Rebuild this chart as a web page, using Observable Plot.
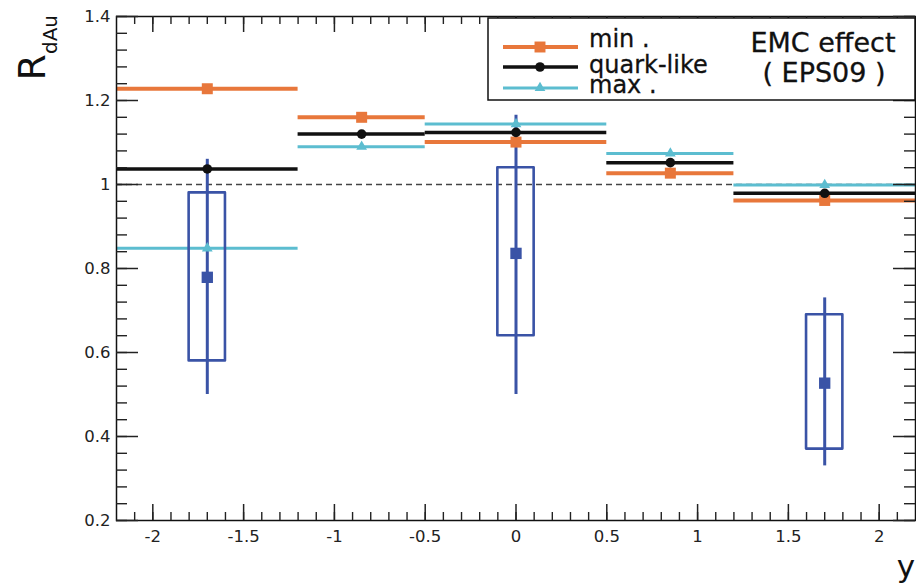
<!DOCTYPE html>
<html><head><meta charset="utf-8">
<script src="https://cdn.jsdelivr.net/npm/d3@7"></script>
<script src="https://cdn.jsdelivr.net/npm/@observablehq/plot@0.6"></script>
<style>
body{margin:0;background:#fff}
#chart{position:relative;width:916px;height:584px;overflow:hidden}
</style>
</head><body><div id="chart"></div>
<script>
// ---- data ----
const binLo     = [-2.2, -1.2, -0.5, 0.5, 1.2];
const binHi     = [-1.2, -0.5, 0.5, 1.2, 2.2];
const binCenter = [-1.7, -0.85, 0, 0.85, 1.7];
const minVals   = [1.228, 1.160, 1.101, 1.027, 0.962];   // EPS09 min
const quarkVals = [1.037, 1.120, 1.124, 1.052, 0.979];   // quark-like
const maxVals   = [0.848, 1.090, 1.144, 1.074, 0.999];   // EPS09 max

const dataX  = [-1.7, 0, 1.7];
const dataY  = [0.779, 0.836, 0.527];
const statLo = [0.50, 0.50, 0.33];
const statHi = [1.06, 1.165, 0.73];
const sysLo  = [0.58, 0.64, 0.37];
const sysHi  = [0.98, 1.04, 0.69];

const xMajorTicks = [-2, -1.5, -1, -0.5, 0, 0.5, 1, 1.5, 2];
const yMajorTicks = [0.2, 0.4, 0.6, 0.8, 1.0, 1.2, 1.4];
const xMinorTicks = d3.range(-21, 22).map(i => i / 10);
const yMinorTicks = d3.range(5, 36).map(i => i * 0.04);

const legendLabels = ["min .", "quark-like", "max ."];
const legendTitle = ["EMC effect", "( EPS09 )"];

// ---- layout ----
const W = 916, H = 584, mL = 116, mR = 1, mT = 16, mB = 64;
const pw = W - mL - mR, ph = H - mT - mB;
const orange = "#e8773b", cyan = "#5cbdd0", blue = "#3a53a6", black = "#111";
const boxHalf = 0.1;
const fmt = d => String(Math.round(d * 100) / 100);

const bins = binLo.map((lo, i) => ({lo, hi: binHi[i], c: binCenter[i], min: minVals[i], quark: quarkVals[i], max: maxVals[i]}));
const pts = dataX.map((x, i) => ({x, y: dataY[i], sLo: statLo[i], sHi: statHi[i], bLo: sysLo[i], bHi: sysHi[i]}));

const plot = Plot.plot({
  width: W, height: H,
  marginLeft: mL, marginRight: mR, marginTop: mT, marginBottom: mB,
  x: {domain: [-2.2, 2.2]},
  y: {domain: [0.2, 1.4]},
  style: {fontFamily: "'DejaVu Sans', sans-serif", background: "#fff", color: "#222", overflow: "visible"},
  marks: [
    Plot.ruleY([1], {stroke: "#444", strokeWidth: 1.4, strokeDasharray: "6,4"}),
    Plot.ruleY(bins, {x1: "lo", x2: "hi", y: "max", stroke: cyan, strokeWidth: 3}),
    Plot.ruleY(bins, {x1: "lo", x2: "hi", y: "quark", stroke: black, strokeWidth: 3.5}),
    Plot.ruleY(bins, {x1: "lo", x2: "hi", y: "min", stroke: orange, strokeWidth: 4}),
    Plot.rect(pts, {x1: d => d.x - boxHalf, x2: d => d.x + boxHalf, y1: "bLo", y2: "bHi", fill: "none", stroke: blue, strokeWidth: 2.6, strokeLinejoin: "round"}),
    Plot.ruleX(pts, {x: "x", y1: "sLo", y2: "sHi", stroke: blue, strokeWidth: 3}),
    Plot.dot(bins, {x: "c", y: "min", symbol: "square", r: 6.2, fill: orange}),
    Plot.dot(bins, {x: "c", y: "quark", symbol: "circle", r: 4.8, fill: black}),
    Plot.dot(bins, {x: "c", y: "max", symbol: "triangle", r: 4, fill: cyan}),
    Plot.dot(pts, {x: "x", y: "y", symbol: "square", r: 6.4, fill: blue}),
    Plot.frame({stroke: black, strokeWidth: 1.5}),
    // inward ticks (ROOT style)
    Plot.tickX(xMinorTicks, {x: d => d, insetTop: ph - 8, stroke: "#222", strokeWidth: 1.4}),
    Plot.tickX(xMajorTicks, {x: d => d, insetTop: ph - 16, stroke: "#222", strokeWidth: 1.5}),
    Plot.tickX(xMinorTicks, {x: d => d, insetBottom: ph - 8, stroke: "#222", strokeWidth: 1.4}),
    Plot.tickX(xMajorTicks, {x: d => d, insetBottom: ph - 16, stroke: "#222", strokeWidth: 1.5}),
    Plot.tickY(yMinorTicks, {y: d => d, insetRight: pw - 11, stroke: "#222", strokeWidth: 1.4}),
    Plot.tickY(yMajorTicks, {y: d => d, insetRight: pw - 22, stroke: "#222", strokeWidth: 1.5}),
    Plot.tickY(yMinorTicks, {y: d => d, insetLeft: pw - 11, stroke: "#222", strokeWidth: 1.4, ariaLabel: "right-ticks"}),
    Plot.tickY(yMajorTicks, {y: d => d, insetLeft: pw - 22, stroke: "#222", strokeWidth: 1.5}),
    Plot.axisX({ticks: xMajorTicks, tickSize: 0, tickPadding: 10, tickFormat: fmt, fontSize: 16.5, label: null, fill: "#222", stroke: "#222", strokeWidth: 0.25}),
    Plot.axisY({ticks: yMajorTicks, tickSize: 0, tickPadding: 6, tickFormat: fmt, fontSize: 16.5, label: null, fill: "#222", stroke: "#222", strokeWidth: 0.25})
  ]
});

document.getElementById("chart").appendChild(plot);
const svg = d3.select(plot);

// legend (inserted beneath the right-hand axis ticks)
const lg = svg.insert("g", '[aria-label="right-ticks"]')
  .attr("font-family", "'DejaVu Sans', sans-serif").attr("text-anchor", "start");
lg.append("rect").attr("x", 488).attr("y", 18).attr("width", 427).attr("height", 82)
  .attr("fill", "#fff").attr("stroke", black).attr("stroke-width", 1.5);
const entries = [
  {label: legendLabels[0], color: orange, sw: 4, sym: d3.symbolSquare, size: 120, y: 47, ty: 47},
  {label: legendLabels[1], color: black, sw: 3.5, sym: d3.symbolCircle, size: 72, y: 67, ty: 73},
  {label: legendLabels[2], color: cyan, sw: 3, sym: d3.symbolTriangle, size: 50, y: 88, ty: 93}
];
entries.forEach(e => {
  lg.append("line").attr("x1", 503).attr("x2", 578).attr("y1", e.y).attr("y2", e.y)
    .attr("stroke", e.color).attr("stroke-width", e.sw);
  lg.append("path").attr("d", d3.symbol(e.sym, e.size)()).attr("transform", `translate(540,${e.y})`).attr("fill", e.color);
  lg.append("text").attr("x", 589).attr("y", e.ty).attr("text-anchor", "start")
    .attr("font-size", 24).attr("fill", black).attr("stroke", black).attr("stroke-width", 0.3).text(e.label);
});
lg.append("text").attr("x", 823).attr("y", 52).attr("text-anchor", "middle").attr("font-size", 27)
  .attr("fill", black).attr("stroke", black).attr("stroke-width", 0.3).text(legendTitle[0]);
lg.append("text").attr("x", 824).attr("y", 82).attr("text-anchor", "middle").attr("font-size", 27)
  .attr("fill", black).attr("stroke", black).attr("stroke-width", 0.3).text(legendTitle[1]);

// axis titles
const yt = svg.append("text").attr("transform", "translate(45,15) rotate(-90)")
  .attr("text-anchor", "end").attr("font-family", "'DejaVu Sans', sans-serif").attr("fill", black);
yt.append("tspan").attr("font-size", 38).text("R");
yt.append("tspan").attr("font-size", 20).attr("dy", 12).text("dAu");
svg.append("text").attr("x", 915).attr("y", 577).attr("text-anchor", "end")
  .attr("font-family", "'DejaVu Sans', sans-serif").attr("font-size", 31).attr("fill", black).text("y");
</script>
</body></html>
